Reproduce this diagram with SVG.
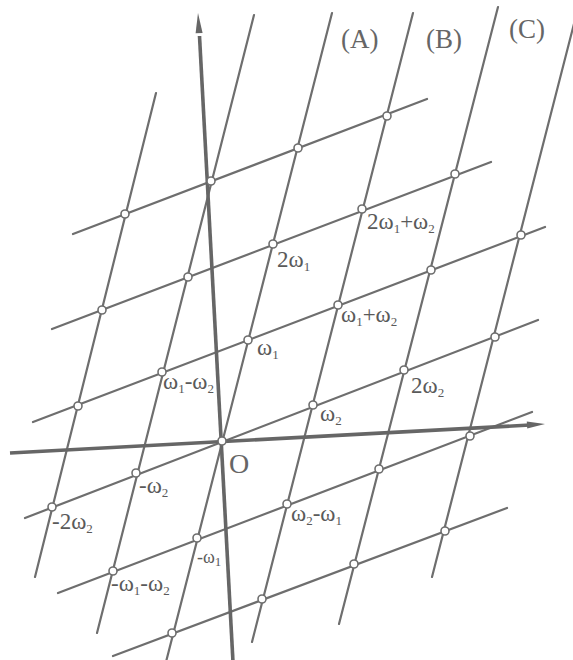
<svg xmlns="http://www.w3.org/2000/svg" width="573" height="660" viewBox="0 0 573 660">
<style>
.g{stroke:#6e6e6e;stroke-width:2.2;stroke-linecap:round;fill:none}
.ax{stroke:#666;stroke-width:3.6;stroke-linecap:butt;fill:none}
.ah{fill:#666;stroke:none}
.n{fill:#fff;stroke:#6e6e6e;stroke-width:1.6}
.t{font-family:"Liberation Serif","DejaVu Serif",serif;font-size:23px;fill:#5a5a5a}
.s{font-size:13px}
.big{font-family:"Liberation Serif","DejaVu Serif",serif;font-size:27px;fill:#666}
</style>
<rect width="573" height="660" fill="#fff"/>
<g id="connectors">
  <g id="lines-omega1">
    <line class="g" x1="156" y1="93" x2="35" y2="577"/>
    <line class="g" x1="254" y1="15" x2="97" y2="633"/>
    <line class="g" x1="332" y1="13" x2="166" y2="662"/>
    <line class="g" x1="413" y1="13" x2="252" y2="642"/>
    <line class="g" x1="498" y1="7" x2="339" y2="624"/>
    <line class="g" x1="577" y1="12" x2="432" y2="577"/>
  </g>
  <g id="lines-omega2">
    <line class="g" x1="73" y1="234" x2="427" y2="99"/>
    <line class="g" x1="52" y1="329" x2="491" y2="162"/>
    <line class="g" x1="33" y1="422" x2="545" y2="227"/>
    <line class="g" x1="25" y1="518" x2="538" y2="320"/>
    <line class="g" x1="58" y1="593" x2="532" y2="412"/>
    <line class="g" x1="113" y1="656" x2="507" y2="508"/>
  </g>
  <g id="axes">
    <line class="ax" x1="233" y1="662" x2="199.5" y2="36"/>
    <polygon class="ah" points="198,13 202.6,33 195.6,33.2"/>
    <line class="ax" x1="10" y1="453" x2="530" y2="425"/>
    <polygon class="ah" points="545,424 527.2,428.6 526.8,421.4"/>
  </g>
</g>
<g id="nodes">
  <g id="row3"><circle class="n" cx="125" cy="214" r="4"/><circle class="n" cx="211" cy="181" r="4"/><circle class="n" cx="298" cy="148" r="4"/><circle class="n" cx="387" cy="116" r="4"/></g>
  <g id="row2"><circle class="n" cx="102" cy="310" r="4"/><circle class="n" cx="188" cy="277" r="4"/><circle class="n" cx="273" cy="244" r="4"/><circle class="n" cx="362" cy="209" r="4"/><circle class="n" cx="455" cy="174" r="4"/></g>
  <g id="row1"><circle class="n" cx="78" cy="406" r="4"/><circle class="n" cx="162" cy="372" r="4"/><circle class="n" cx="248" cy="340" r="4"/><circle class="n" cx="338" cy="305" r="4"/><circle class="n" cx="431" cy="270" r="4"/><circle class="n" cx="521" cy="235" r="4"/></g>
  <g id="row0"><circle class="n" cx="52" cy="507" r="4"/><circle class="n" cx="136" cy="473" r="4"/><circle class="n" cx="222" cy="441" r="4"/><circle class="n" cx="313" cy="405" r="4"/><circle class="n" cx="404" cy="370" r="4"/><circle class="n" cx="495" cy="337" r="4"/></g>
  <g id="rowm1"><circle class="n" cx="113" cy="571" r="4"/><circle class="n" cx="197" cy="538" r="4"/><circle class="n" cx="287" cy="504" r="4"/><circle class="n" cx="379" cy="469" r="4"/><circle class="n" cx="470" cy="436" r="4"/></g>
  <g id="rowm2"><circle class="n" cx="172" cy="633" r="4"/><circle class="n" cx="262" cy="599" r="4"/><circle class="n" cx="354" cy="564" r="4"/><circle class="n" cx="445" cy="531" r="4"/></g>
</g>
<g id="labels">
  <text class="big" x="341" y="48">(A)</text>
  <text class="big" x="426" y="48">(B)</text>
  <text class="big" x="509" y="38">(C)</text>
  <text class="t" x="367" y="229">2ω<tspan class="s" dy="4">1</tspan><tspan dy="-4">+ω</tspan><tspan class="s" dy="4">2</tspan></text>
  <text class="t" x="277" y="267">2ω<tspan class="s" dy="4">1</tspan></text>
  <text class="t" x="341" y="322">ω<tspan class="s" dy="4">1</tspan><tspan dy="-4">+ω</tspan><tspan class="s" dy="4">2</tspan></text>
  <text class="t" x="257" y="355">ω<tspan class="s" dy="4">1</tspan></text>
  <text class="t" x="163" y="389">ω<tspan class="s" dy="4">1</tspan><tspan dy="-4">-ω</tspan><tspan class="s" dy="4">2</tspan></text>
  <text class="t" x="411" y="393">2ω<tspan class="s" dy="4">2</tspan></text>
  <text class="t" x="320" y="421">ω<tspan class="s" dy="4">2</tspan></text>
  <text class="big" x="229" y="473" style="font-size:28px">O</text>
  <text class="t" x="139" y="493">-ω<tspan class="s" dy="4">2</tspan></text>
  <text class="t" x="52" y="529">-2ω<tspan class="s" dy="4">2</tspan></text>
  <text class="t" x="291" y="521">ω<tspan class="s" dy="4">2</tspan><tspan dy="-4">-ω</tspan><tspan class="s" dy="4">1</tspan></text>
  <text class="t" x="197" y="563" style="font-size:18px">-ω<tspan class="s" dy="3">1</tspan></text>
  <text class="t" x="111" y="591">-ω<tspan class="s" dy="4">1</tspan><tspan dy="-4">-ω</tspan><tspan class="s" dy="4">2</tspan></text>
</g>
</svg>
